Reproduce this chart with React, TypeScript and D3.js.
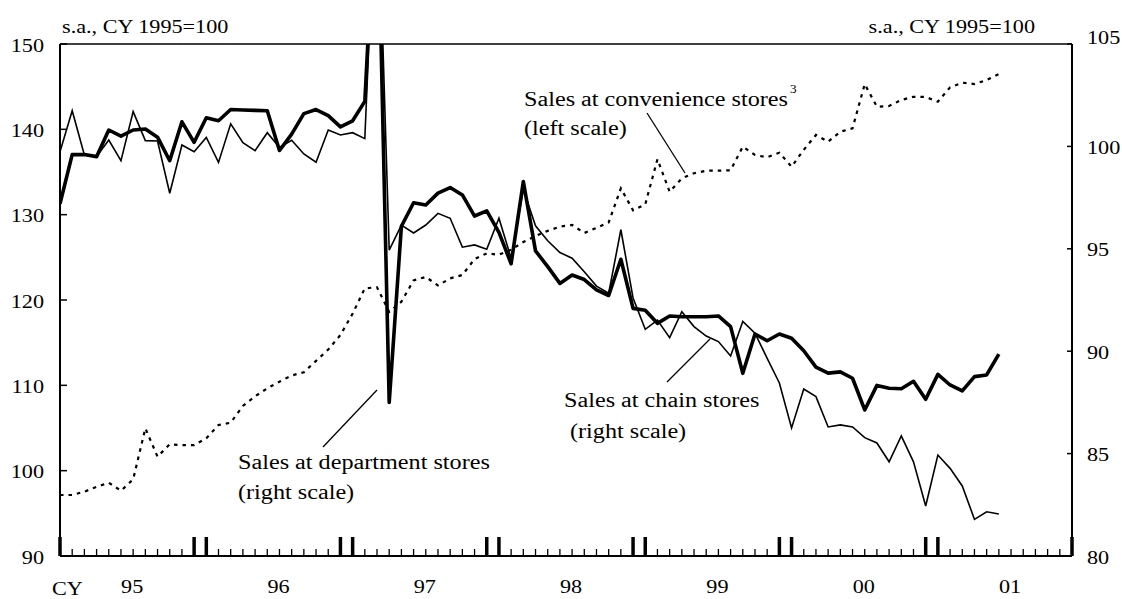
import React from "react";
import * as d3 from "d3";

// Monthly data, Jan 1995 (index 0) .. Jun 2001 (index 77)
const yearLabels = ["95", "96", "97", "98", "99", "00", "01"];
const leftTicks = [90, 100, 110, 120, 130, 140, 150];
const rightTicks = [80, 85, 90, 95, 100, 105];

// Sales at department stores (thick, right scale)
const department = [
  97.2, 99.6, 99.6, 99.5, 100.8, 100.5, 100.8, 100.85, 100.45, 99.3, 101.2, 100.2,
  101.4, 101.25, 101.8, 101.78, 101.76, 101.74, 99.8, 100.6, 101.6, 101.8, 101.5, 100.95,
  101.25, 102.2, 113.7, 87.5, 96.1, 97.25, 97.14, 97.72, 97.99, 97.63, 96.6, 96.85,
  95.8, 94.27, 98.28, 94.9, 94.13, 93.31, 93.72, 93.5, 92.99, 92.72, 94.49, 92.09,
  92.0, 91.36, 91.72, 91.68, 91.68, 91.68, 91.72, 91.2, 88.92, 90.84, 90.51, 90.84,
  90.63, 90.02, 89.22, 88.93, 88.99, 88.68, 87.13, 88.33, 88.19, 88.17, 88.53, 87.65,
  88.87, 88.35, 88.06, 88.76, 88.84, 89.86,
];

// Sales at chain stores (thin, right scale)
const chain = [
  99.74, 101.74, 99.58, 99.5, 100.31, 99.3, 101.7, 100.28, 100.26, 97.71, 100.07, 99.74,
  100.44, 99.22, 101.1, 100.18, 99.79, 100.67, 99.95, 100.3, 99.63, 99.23, 100.8, 100.56,
  100.67, 100.38, 114.3, 94.94, 96.16, 95.77, 96.16, 96.73, 96.49, 95.08, 95.19, 94.98,
  96.49, 94.54, 97.9, 96.12, 95.39, 94.82, 94.54, 93.88, 93.18, 92.83, 95.93, 92.6,
  91.07, 91.52, 90.66, 91.93, 91.2, 90.74, 90.47, 89.77, 91.45, 90.88, 89.65, 88.45,
  86.25, 88.15, 87.78, 86.3, 86.4, 86.3, 85.78, 85.52, 84.6, 85.86, 84.6, 82.44,
  84.93, 84.28, 83.42, 81.79, 82.16, 82.05,
];

// Sales at convenience stores (dotted, left scale)
const convenience = [
  97.15, 97.15, 97.54, 98.1, 98.59, 97.65, 98.98, 104.96, 101.64, 103.09, 103.0, 103.0,
  103.79, 105.35, 105.62, 107.58, 108.71, 109.65, 110.43, 111.15, 111.54, 112.87, 114.2, 115.9,
  118.4, 121.37, 121.49, 118.6, 119.8, 122.3, 122.7, 121.7, 122.54, 122.93, 124.8, 125.47,
  125.3, 125.9, 126.8, 127.5, 128.1, 128.6, 128.79, 127.85, 128.45, 129.1, 133.09, 130.5,
  131.2, 136.49, 132.69, 134.26, 134.85, 135.15, 135.15, 135.2, 137.97, 137.0, 136.72, 137.26,
  135.62, 137.6, 139.34, 138.55, 139.72, 140.12, 145.3, 142.65, 142.73, 143.44, 143.82, 143.79,
  143.24, 144.92, 145.47, 145.31, 145.78, 146.48,
];

const W = 1122;
const H = 599;
const L = 60;
const R = 1072;
const TOP = 44;
const BOT = 556;
const FONT = "'Liberation Serif', 'Times New Roman', serif";

const x = d3.scaleLinear().domain([0, 83]).range([L, R]);
const yL = d3.scaleLinear().domain([90, 150]).range([BOT, TOP]);
const yR = d3.scaleLinear().domain([80, 105]).range([BOT, TOP]);

const T = ({ x: tx, y: ty, size = 18.5, sx = 1.2, anchor = "start", children }: any) => (
  <text
    transform={`translate(${tx},${ty}) scale(${sx},1)`}
    textAnchor={anchor}
    fontSize={size}
    fontFamily={FONT}
    fill="#000"
  >
    {children}
  </text>
);

export default function App() {
  const lineR = d3.line<number>().x((_, i) => x(i)).y((d) => yR(d));
  const lineL = d3.line<number>().x((_, i) => x(i)).y((d) => yL(d));
  const months = d3.range(0, 84);
  const isBig = (i: number) => i === 0 || i === 83 || i % 12 === 11 || (i % 12 === 0 && i > 0);

  return (
    <svg
      width={W}
      height={H}
      style={{ position: "absolute", left: 0, top: 0, background: "#fff" }}
    >
      <defs>
        <clipPath id="plot">
          <rect x={L} y={TOP} width={R - L} height={BOT - TOP} />
        </clipPath>
      </defs>

      {/* frame */}
      <line x1={L} x2={R} y1={TOP} y2={TOP} stroke="#000" strokeWidth={1.5} />
      <line x1={L} x2={L} y1={TOP} y2={BOT} stroke="#000" strokeWidth={2} />
      <line x1={R} x2={R} y1={TOP} y2={BOT} stroke="#000" strokeWidth={2} />
      <line x1={L} x2={R} y1={BOT} y2={BOT} stroke="#000" strokeWidth={2} />

      {/* left ticks */}
      {leftTicks.map((v) => (
        <g key={"l" + v}>
          <line x1={L} x2={L + 7} y1={yL(v)} y2={yL(v)} stroke="#000" strokeWidth={1.5} />
          <T x={44} y={yL(v) + 7.5} anchor="end">{v}</T>
        </g>
      ))}
      {/* right ticks */}
      {rightTicks.map((v) => (
        <g key={"r" + v}>
          <line x1={R - 5} x2={R} y1={yR(v)} y2={yR(v)} stroke="#000" strokeWidth={1.5} />
          <T x={1087} y={yR(v) + 7.5 - (v === 105 ? 8 : 0)}>{v}</T>
        </g>
      ))}

      {/* x ticks */}
      {months.map((i) =>
        isBig(i) ? (
          <line key={"m" + i} x1={x(i)} x2={x(i)} y1={BOT} y2={BOT - 19} stroke="#000" strokeWidth={3.5} />
        ) : (
          <line key={"m" + i} x1={x(i)} x2={x(i)} y1={BOT} y2={BOT - 7} stroke="#000" strokeWidth={1.3} />
        )
      )}
      {yearLabels.map((lab, k) => (
        <T key={lab} x={x(6 + 12 * k) - 1} y={593} anchor="middle">{lab}</T>
      ))}
      <T x={52} y={595}>CY</T>

      {/* units */}
      <T x={62} y={33}>s.a., CY 1995=100</T>
      <T x={1035} y={33} anchor="end">s.a., CY 1995=100</T>

      {/* series */}
      <g clipPath="url(#plot)">
        <path d={lineL(convenience) || ""} fill="none" stroke="#000" strokeWidth={2.2} strokeDasharray="3.5,5" />
        <path d={lineR(chain) || ""} fill="none" stroke="#000" strokeWidth={1.6} strokeLinejoin="miter" />
        <path d={lineR(department) || ""} fill="none" stroke="#000" strokeWidth={3.6} strokeLinejoin="round" />
      </g>

      {/* annotations */}
      <T x={524} y={106} size={20} sx={1.21}>Sales at convenience stores</T>
      <T x={790} y={93} size={12} sx={1.1}>3</T>
      <T x={524} y={135} size={20} sx={1.21}>(left scale)</T>
      <line x1={647} y1={113} x2={685} y2={173} stroke="#000" strokeWidth={1.3} />

      <T x={238} y={469} size={20} sx={1.21}>Sales at department stores</T>
      <T x={238} y={499} size={20} sx={1.21}>(right scale)</T>
      <line x1={323} y1={447} x2={377} y2={390} stroke="#000" strokeWidth={1.3} />

      <T x={564} y={407} size={20} sx={1.21}>Sales at chain stores</T>
      <T x={570} y={438} size={20} sx={1.21}>(right scale)</T>
      <line x1={667} y1={382} x2={710} y2={339} stroke="#000" strokeWidth={1.3} />
    </svg>
  );
}
